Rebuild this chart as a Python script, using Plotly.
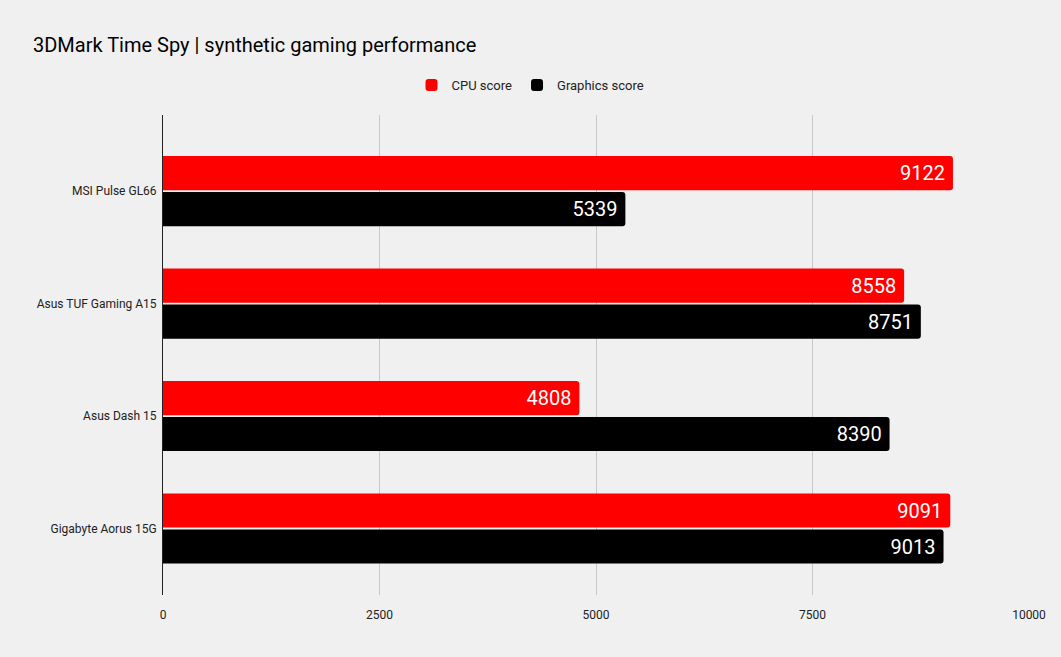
import plotly.graph_objects as go

laptops = ["MSI Pulse GL66", "Asus TUF Gaming A15", "Asus Dash 15", "Gigabyte Aorus 15G"]
cpu_score = [9122, 8558, 4808, 9091]
graphics_score = [5339, 8751, 8390, 9013]
x_ticks = [0, 2500, 5000, 7500, 10000]

fig = go.Figure()

for name, values, color in [
    ("CPU score", cpu_score, "#ff0000"),
    ("Graphics score", graphics_score, "#000000"),
]:
    fig.add_trace(
        go.Bar(
            name=name,
            y=laptops,
            x=values,
            orientation="h",
            marker=dict(color=color, line=dict(width=0)),
            # non-breaking space keeps the label off the bar end a little
            text=[f"{v}\u00a0" for v in values],
            textposition="inside",
            insidetextanchor="end",
            textfont=dict(family="Roboto", size=20, color="#ffffff"),
            textangle=0,
        )
    )

fig.update_layout(
    barmode="group",
    bargap=0.36,
    bargroupgap=0.05,
    barcornerradius=3,
    width=1061,
    height=657,
    paper_bgcolor="#f0f0f0",
    plot_bgcolor="#f0f0f0",
    margin=dict(l=163, r=32, t=115, b=62),
    title=dict(
        text="3DMark Time Spy | synthetic gaming performance",
        font=dict(family="Roboto", size=20, color="#000000"),
        xref="container",
        yref="container",
        x=33 / 1061,
        xanchor="left",
        y=1 - 45 / 657,
        yanchor="middle",
    ),
    legend=dict(
        orientation="h",
        xref="container",
        yref="container",
        x=0.5,
        xanchor="center",
        y=1 - 85 / 657,
        yanchor="middle",
        font=dict(family="Roboto", size=13, color="#222222"),
        itemwidth=30,
        traceorder="normal",
    ),
    xaxis=dict(
        range=[0, 10000],
        tickvals=x_ticks,
        ticktext=[str(t) for t in x_ticks],
        showgrid=True,
        gridcolor="#c8c8c8",
        gridwidth=1,
        zeroline=False,
        showline=False,
        tickfont=dict(family="Roboto", size=12, color="#222222"),
        ticks="",
        ticklabelstandoff=11,
    ),
    yaxis=dict(
        range=[3.591, -0.676],
        showgrid=False,
        zeroline=False,
        showline=True,
        linecolor="#222222",
        linewidth=1,
        ticks="",
        tickfont=dict(family="Roboto", size=12, color="#222222"),
        ticklabelstandoff=3,
    ),
)

fig.write_html(
    "out.html",
    config={"displayModeBar": False},
    post_script="document.body.style.margin='0';",
)
